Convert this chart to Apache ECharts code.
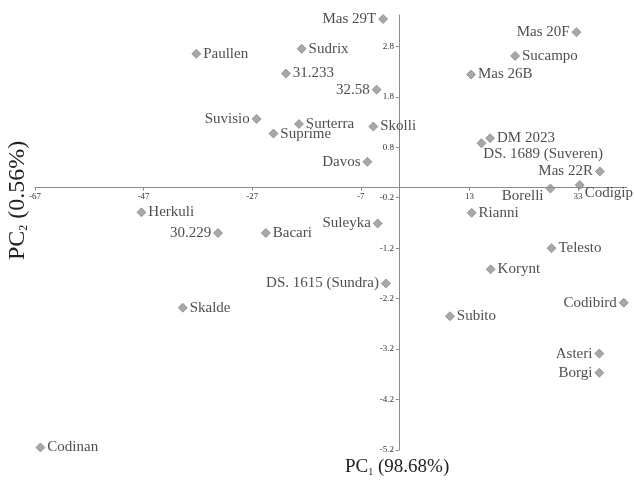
<!DOCTYPE html>
<html>
<head>
<meta charset="utf-8">
<script src="https://cdn.jsdelivr.net/npm/echarts@6/dist/echarts.min.js"></script>
<style>
  html, body { margin: 0; padding: 0; background: #fff; }
  #chart { width: 634px; height: 486px; }
</style>
</head>
<body>
<div id="chart"></div>
<script>
// Genotype scores on the first two principal components
const genotypes = [
  'Mas 29T', 'Paullen', 'Sudrix', '31.233', '32.58', 'Suvisio', 'Surterra', 'Suprime',
  'Skolli', 'Davos', 'Mas 20F', 'Sucampo', 'Mas 26B', 'DS. 1689 (Suveren)', 'DM 2023',
  'Mas 22R', 'Borelli', 'Codigip', 'Rianni', 'Telesto', 'Korynt', 'Codibird', 'Subito',
  'Asteri', 'Borgi', 'Herkuli', '30.229', 'Bacari', 'Suleyka', 'DS. 1615 (Sundra)',
  'Skalde', 'Codinan'
];
const pc1 = [
  -2.9, -37.3, -17.9, -20.8, -4.1, -26.2, -18.4, -23.1,
  -4.7, -5.8, 32.7, 21.4, 13.3, 15.2, 16.8,
  37.0, 27.9, 33.3, 13.4, 28.1, 16.9, 41.4, 9.4,
  36.9, 36.9, -47.4, -33.3, -24.5, -3.9, -2.4,
  -39.8, -66.0
];
const pc2 = [
  3.34, 2.65, 2.75, 2.26, 1.94, 1.36, 1.26, 1.07,
  1.21, 0.51, 3.08, 2.61, 2.24, 0.88, 0.98,
  0.32, -0.02, 0.05, -0.50, -1.20, -1.62, -2.28, -2.55,
  -3.29, -3.67, -0.49, -0.90, -0.90, -0.71, -1.90,
  -2.38, -5.15
];
const xTicks = { min: -67, max: 42, step: 20 };
const yTicks = { min: -5.2, max: 3.42, step: 1 };

// Where each point's name sits relative to its marker
const labelLeft = new Set(['Mas 29T', '32.58', 'Suvisio', 'Davos', 'Mas 20F', 'Mas 22R',
  '30.229', 'Suleyka', 'DS. 1615 (Sundra)', 'Codibird', 'Asteri', 'Borgi']);
const labelTweaks = {
  'Borelli': { position: 'left', offset: [0, 7] },
  'Codigip': { position: 'right', offset: [-2, 8] },
  'DS. 1689 (Suveren)': { position: 'right', offset: [-5, 11] }
};

const serif = '"Liberation Serif", "Times New Roman", serif';
const GRID = { left: 35, right: 7, top: 15, bottom: 36 };
const W = 634, H = 486;

const points = genotypes.map((name, i) => {
  const lbl = labelTweaks[name] || { position: labelLeft.has(name) ? 'left' : 'right' };
  return {
    name: name,
    value: [pc1[i], pc2[i]],
    label: Object.assign({}, lbl)
  };
});

const axisColor = '#8a8a8a';
const tickFont = { fontFamily: serif, fontSize: 9, color: '#333' };

const chart = echarts.init(document.getElementById('chart'), null, { renderer: 'canvas' });

chart.setOption({
  animation: false,
  backgroundColor: '#ffffff',
  grid: Object.assign({ containLabel: false }, GRID),
  xAxis: {
    type: 'value',
    min: xTicks.min,
    max: xTicks.max,
    interval: xTicks.step,
    splitLine: { show: false },
    axisLine: { onZero: false, lineStyle: { color: axisColor, width: 1 } },
    axisTick: { show: true, inside: false, length: 3, lineStyle: { color: axisColor } },
    axisLabel: Object.assign({ showMaxLabel: false, margin: 5 }, tickFont)
  },
  yAxis: {
    type: 'value',
    min: yTicks.min,
    max: yTicks.max,
    interval: yTicks.step,
    splitLine: { show: false },
    axisLine: { onZero: false, lineStyle: { color: axisColor, width: 1 } },
    axisTick: { show: true, inside: false, length: 3, lineStyle: { color: axisColor } },
    axisLabel: Object.assign({
      showMaxLabel: false, margin: 5,
      formatter: v => (Math.round(v * 10) / 10).toString()
    }, tickFont)
  },
  series: [{
    type: 'scatter',
    symbol: 'diamond',
    symbolSize: 9,
    itemStyle: { color: '#929292', borderColor: '#777777', borderWidth: 0.8 },
    label: {
      show: true,
      formatter: p => p.name,
      distance: 2,
      fontFamily: serif,
      fontSize: 15,
      color: '#222'
    },
    data: points
  }],
  graphic: [
    {
      type: 'text',
      left: 345,
      top: 458,
      style: {
        text: '{a|PC}{s|1}{a| (98.68%)}',
        rich: {
          a: { fontFamily: serif, fontSize: 19, fill: '#222' },
          s: { fontFamily: serif, fontSize: 10, fill: '#222', padding: [9, 0, 0, 0] }
        }
      }
    },
    {
      type: 'text',
      x: 6,
      y: 260,
      rotation: Math.PI / 2,
      style: {
        text: '{a|PC}{s|2}{a| (0.56%)}',
        rich: {
          a: { fontFamily: serif, fontSize: 24, fill: '#222' },
          s: { fontFamily: serif, fontSize: 12, fill: '#222', padding: [11, 0, 0, 0] }
        }
      }
    }
  ]
});

// Move both axes (line, ticks and labels) so they cross at the origin
const origin = chart.convertToPixel({ gridIndex: 0 }, [0, 0]);
const gridBottomPx = H - GRID.bottom;
const gridLeftPx = GRID.left;
chart.setOption({
  xAxis: { offset: -(gridBottomPx - origin[1]) },
  yAxis: { offset: -(origin[0] - gridLeftPx) }
});
</script>
</body>
</html>
